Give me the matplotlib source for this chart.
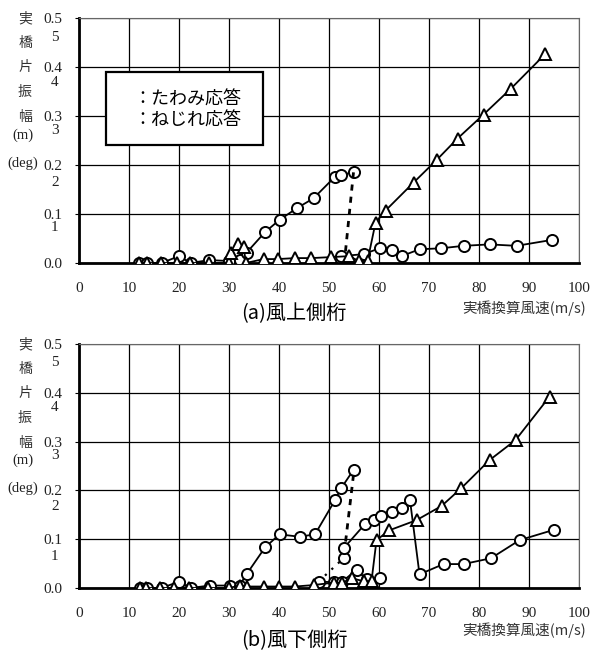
import matplotlib
matplotlib.use("Agg")
import matplotlib.pyplot as plt
from matplotlib.transforms import blended_transform_factory
from matplotlib.patches import Rectangle

# ---------------- data ----------------
# (a) upper-wind girder
a_circ1_x = [12.0, 13.5, 16.5, 20.0, 22.3, 26.0, 30.0, 32.2, 33.5, 37.2, 40.1, 43.6, 46.9, 51.2, 52.4, 54.9]
a_circ1_y = [0.0, 0.0, 0.0, 0.014, 0.0, 0.006, 0.004, 0.006, 0.021, 0.063, 0.088, 0.112, 0.132, 0.176, 0.180, 0.185]
a_dash_x = [54.9, 53.2]
a_dash_y = [0.185, 0.014]
a_circ2_x = [52.4, 56.9, 60.1, 62.5, 64.5, 68.1, 72.4, 76.9, 82.1, 87.5, 94.5]
a_circ2_y = [0.014, 0.018, 0.030, 0.027, 0.014, 0.028, 0.030, 0.035, 0.038, 0.035, 0.047]
a_tri_x = [11.9, 13.5, 16.4, 19.5, 22.2, 26.0, 29.9, 30.3, 31.7, 32.9, 33.4, 36.9, 39.7, 43.2, 46.4, 50.4, 54.0, 56.0, 57.7,
           59.3, 61.3, 66.9, 71.5, 75.7, 80.9, 86.4, 93.2]
a_tri_y = [0.0, 0.0, 0.0, 0.0, 0.0, 0.0, 0.0, 0.020, 0.038, 0.033, 0.0, 0.008, 0.008, 0.010, 0.010, 0.012, 0.014, 0.004, 0.004,
           0.082, 0.107, 0.164, 0.210, 0.254, 0.303, 0.356, 0.426]

# (b) lower-wind girder
b_circ1_x = [12.2, 13.5, 16.5, 20.0, 22.3, 26.1, 30.1, 32.1, 33.5, 37.2, 40.1, 44.1, 47.2, 51.2, 52.4, 54.9]
b_circ1_y = [0.0, 0.0, 0.0, 0.013, 0.0, 0.005, 0.005, 0.005, 0.028, 0.083, 0.110, 0.105, 0.110, 0.180, 0.204, 0.242]
b_dash_x = [54.9, 53.2]
b_dash_y = [0.232, 0.085]
b_dot_x = [47.9, 52.9]
b_dot_y = [0.013, 0.061]
b_circ2_x = [52.9, 52.9, 57.2, 58.9, 60.4, 62.5, 64.5, 66.2, 68.1, 72.9, 76.9, 82.4, 88.1, 94.9]
b_circ2_y = [0.061, 0.081, 0.131, 0.139, 0.148, 0.155, 0.163, 0.180, 0.028, 0.049, 0.049, 0.061, 0.098, 0.119]
b_circ3_x = [47.9, 50.9, 52.5, 55.5, 57.5, 60.1]
b_circ3_y = [0.013, 0.012, 0.012, 0.037, 0.018, 0.021]
b_tri_x = [12.2, 13.3, 16.2, 19.0, 22.0, 25.7, 30.0, 32.1, 33.5, 37.0, 39.9, 43.2, 46.9, 50.9, 52.5, 54.5, 56.9, 58.5,
           59.5, 62.0, 67.5, 72.5, 76.4, 82.1, 87.3, 94.1]
b_tri_y = [0.0, 0.0, 0.0, 0.0, 0.0, 0.0, 0.0, 0.005, 0.003, 0.003, 0.003, 0.003, 0.006, 0.011, 0.010, 0.020, 0.014, 0.014,
           0.098, 0.118, 0.139, 0.168, 0.204, 0.262, 0.303, 0.392]

x_ticks = [0, 10, 20, 30, 40, 50, 60, 70, 80, 90, 100]
y_ticks = [0.0, 0.1, 0.2, 0.3, 0.4, 0.5]
y_tick_labels = ["0.0", "0.1", "0.2", "0.3", "0.4", "0.5"]
deg_labels = ["1", "2", "3", "4", "5"]
a_deg_pos = [0.072, 0.165, 0.270, 0.369, 0.461]
b_deg_pos = [0.064, 0.166, 0.272, 0.369, 0.463]
ylabel_chars = ["実", "橋", "片", "振", "幅", "(m)", "(deg)"]
ylabel_pos = [1.0, 0.898, 0.80, 0.698, 0.596, 0.522, 0.408]
legend_texts = ["：たわみ応答", "：ねじれ応答"]
titles = ["(a)風上側桁", "(b)風下側桁"]
xlabel = "実橋換算風速(m/s)"

CJK = ["Noto Sans CJK JP", "DejaVu Sans"]
SERIF = ["Liberation Serif", "DejaVu Serif"]

fig = plt.figure(figsize=(5.92, 6.52), dpi=100)
W, H = 592, 652


def make_ax(top_px, bot_px):
    return fig.add_axes([79 / W, (H - bot_px) / H, 500 / W, (bot_px - top_px) / H])


ax_a = make_ax(18, 263)
ax_b = make_ax(344, 588)

mk = dict(markersize=8, markerfacecolor="white", markeredgecolor="black", markeredgewidth=1.4,
          color="black", linewidth=1.3)


def style(ax, deg_pos):
    ax.set_xlim(0, 100)
    ax.set_ylim(0, 0.5)
    ax.set_xticks(x_ticks)
    ax.set_yticks(y_ticks)
    ax.set_yticklabels(y_tick_labels)
    ax.grid(True, color="black", linewidth=0.9)
    ax.set_axisbelow(True)
    for s in ["left", "bottom"]:
        ax.spines[s].set_linewidth(2.0)
    for s in ["top", "right"]:
        ax.spines[s].set_linewidth(0.8)
        ax.spines[s].set_color("#666666")
    ax.tick_params(axis="x", length=0, pad=14, labelsize=11)
    ax.tick_params(axis="y", length=3, pad=9, labelsize=11)
    for lab in ax.get_xticklabels() + ax.get_yticklabels():
        lab.set_family(SERIF)
        lab.set_color("#222222")
    tr = blended_transform_factory(ax.transAxes, ax.transData)
    for lab, p in zip(deg_labels, deg_pos):
        ax.text(-0.041, p, lab, transform=tr, ha="right", va="center", fontsize=11,
                family=SERIF, color="#222222")
    for ch, p in zip(ylabel_chars, ylabel_pos):
        if ch.startswith("("):
            ax.text(-0.112, p, ch, transform=ax.transAxes, ha="center", va="center",
                    fontsize=10.5, family=SERIF, color="#222222")
        else:
            ax.text(-0.108, p, ch, transform=ax.transAxes, ha="center", va="center",
                    fontsize=10, family=CJK, color="#333333")


# (a)
style(ax_a, a_deg_pos)
ax_a.plot(a_circ1_x, a_circ1_y, marker="o", **mk, zorder=3)
ax_a.plot(a_dash_x, a_dash_y, color="black", linewidth=2.0, linestyle=(0, (2.2, 2.2)), zorder=3)
ax_a.plot(a_circ2_x, a_circ2_y, marker="o", **mk, zorder=3)
ax_a.plot(a_tri_x, a_tri_y, marker="^", **mk, zorder=4)

# legend box (markers absent in original)
ax_a.add_patch(Rectangle((27 / 500, (263 - 145) / 245), 157 / 500, 73 / 245, transform=ax_a.transAxes,
                         facecolor="white", edgecolor="black", linewidth=1.6, zorder=5))
ax_a.text((133 - 79) / 500, (263 - 110) / 245, "\n".join(legend_texts), transform=ax_a.transAxes,
          ha="left", va="center", fontsize=13, family=CJK, linespacing=1.2, zorder=6)

# (b)
style(ax_b, b_deg_pos)
ax_b.plot(b_circ1_x, b_circ1_y, marker="o", **mk, zorder=3)
ax_b.plot(b_dash_x, b_dash_y, color="black", linewidth=2.0, linestyle=(0, (2.2, 2.2)), zorder=3)
ax_b.plot(b_dot_x, b_dot_y, color="black", linewidth=1.6, linestyle=(0, (1, 3)), zorder=3)
ax_b.plot(b_circ3_x, b_circ3_y, marker="o", **mk, zorder=3)
ax_b.plot(b_circ2_x, b_circ2_y, marker="o", **mk, zorder=3)
ax_b.plot(b_tri_x, b_tri_y, marker="^", **mk, zorder=4)

# titles and x labels
fig.text(294 / W, 1 - 314 / H, titles[0], ha="center", va="center", fontsize=14.5, family=CJK)
fig.text(294 / W, 1 - 641 / H, titles[1], ha="center", va="center", fontsize=14.5, family=CJK)
fig.text(586 / W, 1 - 308 / H, xlabel, ha="right", va="center", fontsize=10.5, family=CJK, color="#333333")
fig.text(586 / W, 1 - 630 / H, xlabel, ha="right", va="center", fontsize=10.5, family=CJK, color="#333333")

fig.savefig("out.png", dpi=100)
